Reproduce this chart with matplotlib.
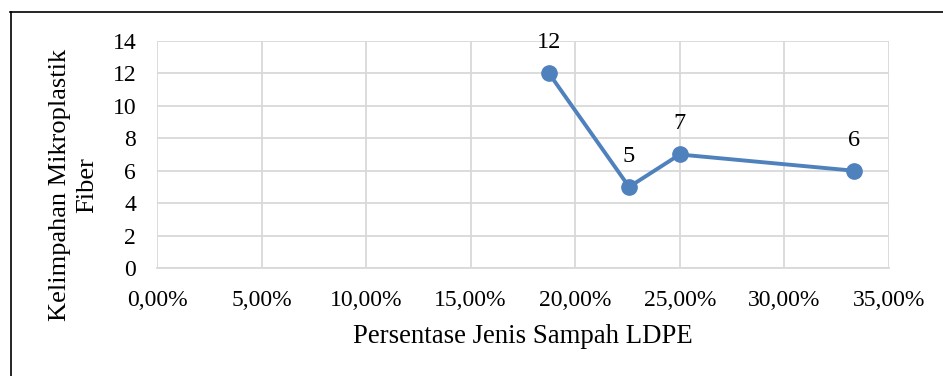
import matplotlib.pyplot as plt
from matplotlib.lines import Line2D
from matplotlib.ticker import FuncFormatter

# persentase jenis sampah LDPE vs kelimpahan mikroplastik fiber
persen_ldpe = [18.75, 22.58, 25.00, 33.33]
kelimpahan_fiber = [12, 5, 7, 6]

plt.rcParams['font.family'] = ['Liberation Serif', 'DejaVu Serif']

fig = plt.figure(figsize=(9.43, 3.76), dpi=100)
ax = fig.add_axes([0.1665, 0.2872, 0.776, 0.6038])

biru = '#4F81BD'
ax.plot(persen_ldpe, kelimpahan_fiber, '-o', color=biru, lw=2.8,
        markersize=11, zorder=3)
for x, y in zip(persen_ldpe, kelimpahan_fiber):
    ax.annotate(str(y), (x, y), xytext=(0, 22), textcoords='offset points',
                ha='center', va='center', fontsize=17.5)

ax.set_xlim(0, 35)
ax.set_ylim(0, 14)
ax.set_xticks(range(0, 36, 5))
ax.set_yticks(range(0, 15, 2))
ax.xaxis.set_major_formatter(FuncFormatter(lambda v, p: '{:.2f}%'.format(v).replace('.', ',')))

ax.grid(True, color='#D9D9D9', lw=1.3)
ax.set_axisbelow(True)
for s in ['top', 'right', 'left']:
    ax.spines[s].set_visible(False)
ax.spines['bottom'].set_color('#D9D9D9')
ax.spines['bottom'].set_linewidth(1.3)
ax.tick_params(length=0, labelsize=17)
ax.tick_params(axis='x', pad=16)
ax.tick_params(axis='y', pad=15)

ax.set_xlabel('Persentase Jenis Sampah LDPE', fontsize=19.3, labelpad=9)
ax.set_ylabel('Kelimpahan Mikroplastik\nFiber', fontsize=19, linespacing=1.3)
ax.yaxis.set_label_coords(-0.08, 0.366)

# bingkai luar
fig.add_artist(Line2D([10.5 / 943, 10.5 / 943], [0, 1 - 11.5 / 376],
                      color='black', lw=1.2, transform=fig.transFigure))
fig.add_artist(Line2D([10 / 943, 1], [1 - 11.5 / 376, 1 - 11.5 / 376],
                      color='black', lw=1.2, transform=fig.transFigure))

fig.savefig('out.png', dpi=100)
